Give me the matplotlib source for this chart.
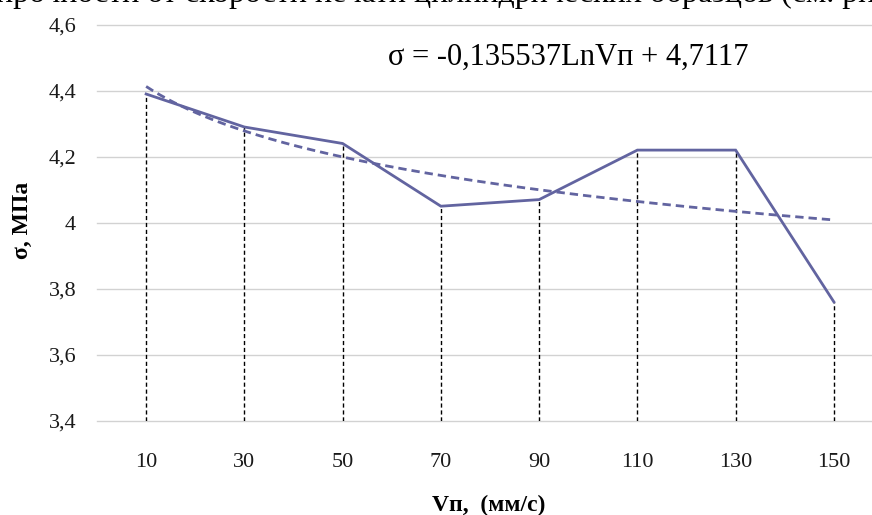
import numpy as np
import matplotlib
matplotlib.use("Agg")
import matplotlib.pyplot as plt

plt.rcParams['font.family'] = ['Liberation Serif', 'DejaVu Serif']

speeds = ['10', '30', '50', '70', '90', '110', '130', '150']
sigma = [4.39, 4.29, 4.24, 4.05, 4.07, 4.22, 4.22, 3.76]
yticks = [3.4, 3.6, 3.8, 4.0, 4.2, 4.4, 4.6]
ytick_labels = ['3,4', '3,6', '3,8', '4', '4,2', '4,4', '4,6']
equation = 'σ = -0,135537LnVп + 4,7117'
top_text = 'прочности от скорости печати цилиндрических образцов (см. рис'

line_col = '#6264a0'

fig = plt.figure(figsize=(8.72, 5.15), dpi=100)
ax = fig.add_axes([97 / 872, 94.3 / 515, 786 / 872, 396 / 515])

x = np.arange(len(speeds))
# excel-style log trendline fitted on the category index 1..n
a, b = np.polyfit(np.log(x + 1), sigma, 1)
xs = np.linspace(0, len(speeds) - 1, 200)
trend = a * np.log(xs + 1) + b

ax.set_ylim(3.4, 4.6)
ax.set_xlim(-0.5, len(speeds) - 0.5)
ax.set_yticks(yticks)
ax.set_yticklabels(ytick_labels)
ax.set_xticks(x)
ax.set_xticklabels(speeds)
for yv in yticks:
    ax.axhline(yv, color='#d2d2d2', linewidth=1.0, clip_on=False, zorder=0)
for s in ax.spines.values():
    s.set_visible(False)
ax.tick_params(length=0, labelsize=16, colors='#1a1a1a')
ax.tick_params(axis='y', pad=15)
ax.tick_params(axis='x', pad=23)

ax.vlines(x, 3.4, sigma, colors='black', linewidth=1.0, linestyles=(0, (3, 2)))
ax.plot(x, sigma, color=line_col, linewidth=2.0, solid_joinstyle='miter')
ax.plot(xs, trend, color=line_col, linewidth=2.0, dashes=(3, 1.8))

fig.text(568 / 872, 1 - 57 / 515, equation, fontsize=22, ha='center', va='center')
fig.text(22 / 872, 1 - 220 / 515, 'σ, МПа', fontsize=17, fontweight='bold',
         rotation=90, ha='center', va='center')
fig.text(489 / 872, 1 - 505 / 515, 'Vп,  (мм/с)', fontsize=17, fontweight='bold',
         ha='center', va='center')
fig.text(-4 / 872, 1 - 2 / 515, top_text, fontsize=23, ha='left', va='baseline')

fig.savefig('out.png', dpi=100)
